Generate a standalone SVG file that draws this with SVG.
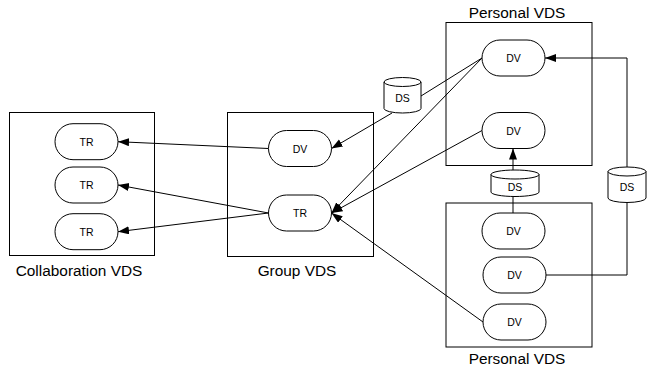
<svg xmlns="http://www.w3.org/2000/svg" width="651" height="366" viewBox="0 0 651 366">
<style>
.box{fill:none;stroke:#000;stroke-width:1}
.node{fill:#fff;stroke:#000;stroke-width:1}
.lbl{font-family:"Liberation Sans",Arial,sans-serif;font-size:10.5px;text-anchor:middle;dominant-baseline:central;fill:#000}
.title{font-family:"Liberation Sans",Arial,sans-serif;font-size:15.4px;text-anchor:middle;fill:#000}
.edge{fill:none;stroke:#000;stroke-width:1}
.arr{marker-end:url(#ah)}
</style>
<defs>
<marker id="ah" markerUnits="userSpaceOnUse" markerWidth="12" markerHeight="9" refX="11" refY="4" orient="auto">
<path d="M0,0 L11,4 L0,8 z" fill="#000"/>
</marker>
</defs>
<g id="collab-vds">
<rect class="box" x="9.5" y="112.5" width="145" height="143"/>
<text class="title" x="79" y="276">Collaboration VDS</text>
</g>
<g id="group-vds">
<rect class="box" x="227.5" y="112.5" width="146" height="144"/>
<text class="title" x="297" y="276">Group VDS</text>
</g>
<g id="personal-vds-top">
<rect class="box" x="446" y="22.5" width="146" height="143"/>
<text class="title" x="517" y="18">Personal VDS</text>
</g>
<g id="personal-vds-bottom">
<rect class="box" x="446" y="203" width="146" height="144"/>
<text class="title" x="517" y="364">Personal VDS</text>
</g>
<g id="connectors">
<line class="edge arr" x1="268.5" y1="148.5" x2="118" y2="141.7"/>
<line class="edge arr" x1="268.5" y1="213" x2="118" y2="185"/>
<line class="edge arr" x1="268.5" y1="213" x2="118" y2="231.7"/>
<line class="edge arr" x1="392" y1="113" x2="331.5" y2="148.5"/>
<line class="edge" x1="482" y1="58" x2="421" y2="96"/>
<line class="edge arr" x1="482" y1="58" x2="331.5" y2="213"/>
<line class="edge arr" x1="482" y1="130.5" x2="331.5" y2="213"/>
<line class="edge arr" x1="483" y1="322" x2="331.5" y2="213"/>
<line class="edge arr" x1="513" y1="170" x2="513" y2="148.5"/>
<line class="edge" x1="513" y1="196.5" x2="513" y2="213"/>
<path class="edge arr" d="M627,167 V58 H545"/>
<path class="edge" d="M627,203 V275 H546"/>
</g>
<g id="tr1"><rect class="node" x="55" y="123.7" width="63" height="36" rx="18"/><text class="lbl" x="86.5" y="141.7">TR</text></g>
<g id="tr2"><rect class="node" x="55" y="167" width="63" height="36" rx="18"/><text class="lbl" x="86.5" y="185">TR</text></g>
<g id="tr3"><rect class="node" x="55" y="213.7" width="63" height="36" rx="18"/><text class="lbl" x="86.5" y="231.7">TR</text></g>
<g id="group-dv"><rect class="node" x="268.5" y="130.5" width="63" height="36" rx="18"/><text class="lbl" x="300" y="148.5">DV</text></g>
<g id="group-tr"><rect class="node" x="268.5" y="195" width="63" height="36" rx="18"/><text class="lbl" x="300" y="213">TR</text></g>
<g id="p1-dv1"><rect class="node" x="482" y="40" width="63" height="36" rx="18"/><text class="lbl" x="513.5" y="58">DV</text></g>
<g id="p1-dv2"><rect class="node" x="482" y="112.5" width="63" height="36" rx="18"/><text class="lbl" x="513.5" y="130.5">DV</text></g>
<g id="p2-dv1"><rect class="node" x="482" y="213" width="63" height="36" rx="18"/><text class="lbl" x="513.5" y="231">DV</text></g>
<g id="p2-dv2"><rect class="node" x="483" y="257" width="63" height="36" rx="18"/><text class="lbl" x="514.5" y="275">DV</text></g>
<g id="p2-dv3"><rect class="node" x="483" y="304" width="63" height="36" rx="18"/><text class="lbl" x="514.5" y="322">DV</text></g>
<g id="ds-group">
<path class="node" d="M384,82 A18.5,4.5 0 0 1 421,82 V108.5 A18.5,4.5 0 0 1 384,108.5 Z"/>
<path class="edge" d="M384,82 A18.5,4.5 0 0 0 421,82"/>
<text class="lbl" x="402.5" y="98">DS</text>
</g>
<g id="ds-middle">
<path class="node" d="M491,174.5 A24,4.5 0 0 1 539,174.5 V192 A24,4.5 0 0 1 491,192 Z"/>
<path class="edge" d="M491,174.5 A24,4.5 0 0 0 539,174.5"/>
<text class="lbl" x="515" y="187">DS</text>
</g>
<g id="ds-right">
<path class="node" d="M608,171.5 A19,4.5 0 0 1 646,171.5 V198 A19,4.5 0 0 1 608,198 Z"/>
<path class="edge" d="M608,171.5 A19,4.5 0 0 0 646,171.5"/>
<text class="lbl" x="627" y="187">DS</text>
</g>
</svg>
